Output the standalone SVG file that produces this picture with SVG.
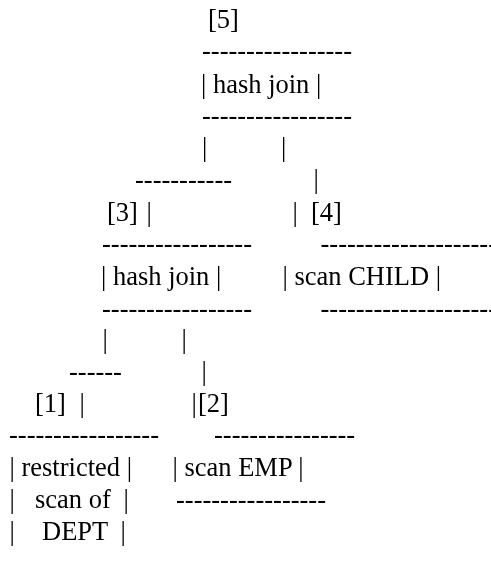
<svg xmlns="http://www.w3.org/2000/svg" width="491" height="562" viewBox="0 0 491 562">
  <defs>
    <!-- flatten to neutral grey so thin strokes carry no colour fringes -->
    <filter id="mono" x="0" y="0" width="100%" height="100%" color-interpolation-filters="sRGB">
      <feColorMatrix type="saturate" values="0"/>
    </filter>
  </defs>
  <style>
    .t text { font-family: "Liberation Serif", "Times New Roman", serif; font-size: 26.5px; fill: #000; }
  </style>
  <rect width="491" height="562" fill="#fff"/>

  <g class="t" filter="url(#mono)">
    <!-- [5] top hash join -->
    <g id="node5">
      <text x="208" y="27.5">[5]</text>
      <text x="202" y="59">-----------------</text>
      <text x="201" y="93">| hash join |</text>
      <text x="202" y="124">-----------------</text>
    </g>

    <!-- [3] inner hash join -->
    <g id="node3">
      <text x="107" y="221">[3]</text>
      <text x="102" y="251.5">-----------------</text>
      <text x="101" y="285">| hash join |</text>
      <text x="102" y="316.5">-----------------</text>
    </g>

    <!-- [4] scan CHILD -->
    <g id="node4">
      <text x="311" y="221">[4]</text>
      <text x="320.5" y="251.5">--------------------</text>
      <text x="282.5" y="285">| scan CHILD |</text>
      <text x="320.5" y="316.5">--------------------</text>
    </g>

    <!-- [1] restricted scan of DEPT -->
    <g id="node1">
      <text x="35" y="412">[1]</text>
      <text x="9" y="443">-----------------</text>
      <text x="9.5" y="476">| restricted |</text>
      <text x="9.5" y="508">|</text>
      <text x="35" y="508">scan of</text>
      <text x="123.5" y="508">|</text>
      <text x="9.5" y="540">|</text>
      <text x="42" y="540">DEPT</text>
      <text x="120.5" y="540">|</text>
    </g>

    <!-- [2] scan EMP -->
    <g id="node2">
      <text x="198" y="412">[2]</text>
      <text x="214" y="443">----------------</text>
      <text x="172.5" y="476">| scan EMP |</text>
      <text x="176" y="508">-----------------</text>
    </g>

    <!-- tree links -->
    <g id="connectors">
      <text x="202" y="156">|</text>
      <text x="281" y="156">|</text>
      <text x="135" y="188">-----------</text>
      <text x="313.5" y="188">|</text>
      <text x="146.5" y="221">|</text>
      <text x="292.5" y="221">|</text>
      <text x="102.5" y="348">|</text>
      <text x="181.5" y="348">|</text>
      <text x="69" y="379.5">------</text>
      <text x="201.5" y="379.5">|</text>
      <text x="79.5" y="412">|</text>
      <text x="191.5" y="412">|</text>
    </g>
  </g>
</svg>
